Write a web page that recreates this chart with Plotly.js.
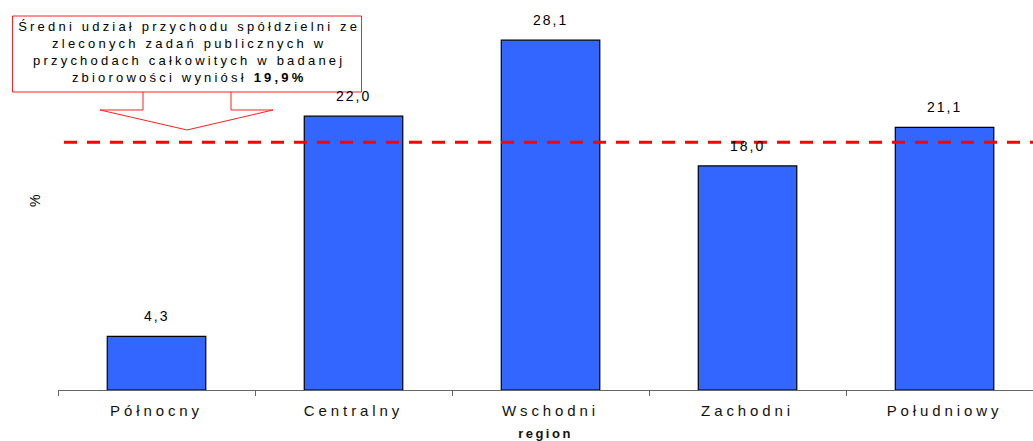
<!DOCTYPE html>
<html>
<head>
<meta charset="utf-8">
<script src="https://cdn.plot.ly/plotly-3.0.1.min.js"></script>
<style>
html,body{margin:0;padding:0;background:#fff;}
#chart .xtick text{letter-spacing:3.9px;}
#chart .annotation-text{letter-spacing:2px;}
#chart .callout .annotation-text{letter-spacing:3.2px;}
#chart .xtitle{letter-spacing:2.5px;}
</style>
</head>
<body>
<div id="chart" style="width:1033px;height:441px;"></div>
<script>
const categories = ["Północny", "Centralny", "Wschodni", "Zachodni", "Południowy"];
const values = [4.3, 22.0, 28.1, 18.0, 21.1];
const average = 19.9;
const calloutText = "Średni udział przychodu spółdzielni ze<br>zleconych zadań publicznych w<br>przychodach całkowitych w badanej<br>zbiorowości wyniósł <b>19,9%</b>";

// plot area in pixels: x 58..1033, y 0..390
const L = 58, W = 975, H = 390;
const px = x => (x - L) / W;
const py = y => (H - y) / H;

const fmt = v => v.toFixed(1).replace('.', ',');

const barAnnotations = categories.map((c, i) => ({
  x: c, y: values[i], xref: 'x', yref: 'y',
  text: fmt(values[i]), showarrow: false,
  yanchor: 'bottom', yshift: 10,
  font: {family: 'Liberation Sans, Arial, sans-serif', size: 14, color: '#000'}
}));

const pointer = [[143,92],[143,110],[100,110],[187,130],[273,110],[231,110],[231,92]]
  .map((p, i) => (i === 0 ? 'M' : 'L') + px(p[0]).toFixed(5) + ',' + py(p[1]).toFixed(5)).join(' ');

const data = [{
  type: 'bar',
  x: categories,
  y: values,
  width: 0.5,
  marker: {color: '#3366FF', line: {color: '#000', width: 1.2}},
  hoverinfo: 'none'
}];

const layout = {
  width: 1033, height: 441,
  margin: {l: L, r: 0, t: 0, b: 51, pad: 0},
  paper_bgcolor: '#fff', plot_bgcolor: '#fff',
  showlegend: false,
  separators: ', ',
  xaxis: {
    type: 'category',
    range: [-0.5, 4.449],
    showline: true, linecolor: '#666', linewidth: 1.2,
    ticks: 'outside', tickson: 'boundaries', ticklen: 5, tickcolor: '#666',
    ticklabelstandoff: 7,
    tickfont: {family: 'Liberation Sans, Arial, sans-serif', size: 15, color: '#111'},
    showgrid: false, zeroline: false,
    title: {text: '<b>region</b>', standoff: 15,
            font: {family: 'Liberation Sans, Arial, sans-serif', size: 13, color: '#111'}}
  },
  yaxis: {
    range: [0, 31.33],
    visible: true, showline: false, showgrid: false, zeroline: false,
    showticklabels: false, ticks: ''
  },
  shapes: [
    {type: 'line', xref: 'paper', yref: 'y', x0: px(64), x1: 1, y0: average, y1: average,
     line: {color: '#FF0000', width: 3, dash: '13px,10px'}, layer: 'above'},
    {type: 'rect', xref: 'paper', yref: 'paper', x0: px(12.5), x1: px(361.5), y0: py(92), y1: py(16),
     line: {color: '#FF2020', width: 1}, fillcolor: 'rgba(0,0,0,0)'},
    {type: 'path', xref: 'paper', yref: 'paper', path: pointer,
     line: {color: '#FF2020', width: 1}}
  ],
  annotations: barAnnotations.concat([
    {xref: 'paper', yref: 'paper', x: px(189), y: py(52), xanchor: 'center', yanchor: 'middle',
     text: calloutText, showarrow: false, align: 'center',
     font: {family: 'Liberation Sans, Arial, sans-serif', size: 13, color: '#000'}},
    {xref: 'paper', yref: 'paper', x: px(35), y: py(200), xanchor: 'center', yanchor: 'middle',
     text: '%', textangle: -90, showarrow: false,
     font: {family: 'Liberation Sans, Arial, sans-serif', size: 14, color: '#000'}}
  ])
};

Plotly.newPlot('chart', data, layout, {staticPlot: true, displayModeBar: false}).then(gd => {
  // tag the callout annotation so CSS can give it wider letter spacing
  gd.querySelectorAll('.annotation').forEach(a => {
    if ((a.textContent || '').indexOf('Średni') === 0) a.classList.add('callout');
  });
});
</script>
</body>
</html>
